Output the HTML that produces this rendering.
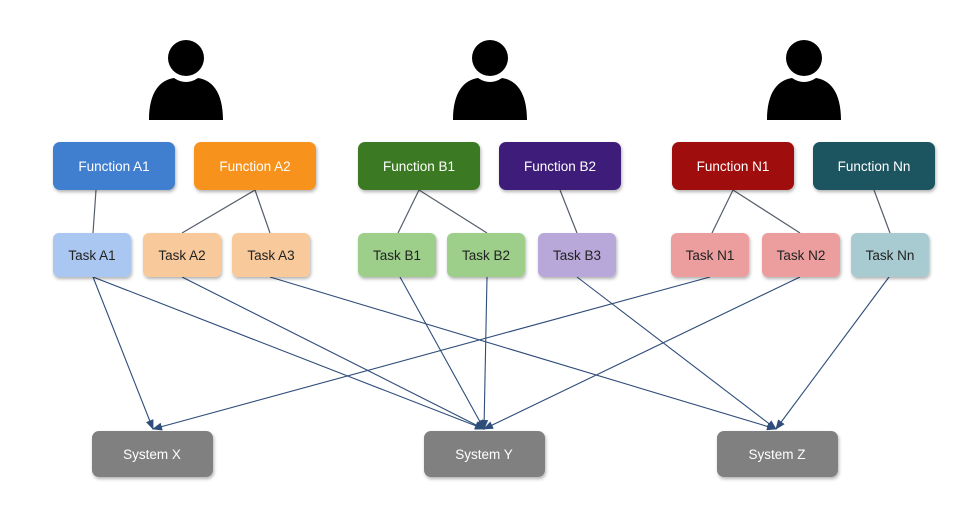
<!DOCTYPE html>
<html><head><meta charset="utf-8"><style>
body{margin:0;background:#fff;}
svg{display:block;font-family:"Liberation Sans",sans-serif;}
</style></head><body>
<svg width="967" height="530" viewBox="0 0 967 530">
<defs>
<marker id="ar" markerWidth="10" markerHeight="8" refX="9" refY="4" orient="auto" markerUnits="userSpaceOnUse">
<path d="M0,0 L10,4 L0,8 Z" fill="#2f4d7a"/></marker>
<filter id="sh" x="-10%" y="-10%" width="130%" height="140%"><feDropShadow dx="1" dy="2" stdDeviation="1.5" flood-opacity="0.3"/></filter>
</defs>
<g fill="#000">
<circle cx="186" cy="58" r="18"/><path d="M149,120 C149,92 160,80 174,78 Q186,86 198,78 C212,80 223,92 223,120 Z"/>
<circle cx="490" cy="58" r="18"/><path d="M453,120 C453,92 464,80 478,78 Q490,86 502,78 C516,80 527,92 527,120 Z"/>
<circle cx="804" cy="58" r="18"/><path d="M767,120 C767,92 778,80 792,78 Q804,86 816,78 C830,80 841,92 841,120 Z"/>
</g>
<g stroke="#555e6a" stroke-width="1.2">
<line x1="96" y1="190" x2="93" y2="233"/>
<line x1="255" y1="190" x2="182" y2="233"/><line x1="255" y1="190" x2="270" y2="233"/>
<line x1="419" y1="190" x2="398" y2="233"/><line x1="419" y1="190" x2="487" y2="233"/>
<line x1="560" y1="190" x2="577" y2="233"/>
<line x1="733" y1="190" x2="712" y2="233"/><line x1="733" y1="190" x2="800" y2="233"/>
<line x1="874" y1="190" x2="890" y2="233"/>
</g>
<g stroke="#2f4d7a" stroke-width="1.1" marker-end="url(#ar)">
<line x1="93" y1="277" x2="153" y2="429"/>
<line x1="93" y1="277" x2="484" y2="429"/>
<line x1="182" y1="277" x2="484" y2="429"/>
<line x1="270" y1="277" x2="776" y2="429"/>
<line x1="400" y1="277" x2="484" y2="429"/>
<line x1="487" y1="277" x2="484" y2="429"/>
<line x1="577" y1="277" x2="776" y2="429"/>
<line x1="710" y1="277" x2="153" y2="429"/>
<line x1="800" y1="277" x2="484" y2="429"/>
<line x1="889" y1="277" x2="776" y2="429"/>
</g>
<g filter="url(#sh)">
<rect x="53" y="142" width="122" height="48" rx="7" fill="#3f7fd0"/>
<rect x="194" y="142" width="122" height="48" rx="7" fill="#f7931e"/>
<rect x="358" y="142" width="122" height="48" rx="7" fill="#3b7a20"/>
<rect x="499" y="142" width="122" height="48" rx="7" fill="#3c1f7a"/>
<rect x="672" y="142" width="122" height="48" rx="7" fill="#a00c0c"/>
<rect x="813" y="142" width="122" height="48" rx="7" fill="#1b5560"/>
<rect x="53" y="233" width="78" height="44" rx="6" fill="#a9c7f0"/>
<rect x="143" y="233" width="78" height="44" rx="6" fill="#f8c99b"/>
<rect x="232" y="233" width="78" height="44" rx="6" fill="#f8c99b"/>
<rect x="358" y="233" width="78" height="44" rx="6" fill="#9dcf8b"/>
<rect x="447" y="233" width="78" height="44" rx="6" fill="#9dcf8b"/>
<rect x="538" y="233" width="78" height="44" rx="6" fill="#b8a7d9"/>
<rect x="671" y="233" width="78" height="44" rx="6" fill="#ec9e9e"/>
<rect x="762" y="233" width="78" height="44" rx="6" fill="#ec9e9e"/>
<rect x="851" y="233" width="78" height="44" rx="6" fill="#a7cbd0"/>
<rect x="92" y="431" width="121" height="46" rx="7" fill="#808080"/>
<rect x="424" y="431" width="121" height="46" rx="7" fill="#808080"/>
<rect x="717" y="431" width="121" height="46" rx="7" fill="#808080"/>
</g>
<g font-size="13.5" fill="#fff" text-anchor="middle">
<text x="114" y="171">Function A1</text><text x="255" y="171">Function A2</text>
<text x="419" y="171">Function B1</text><text x="560" y="171">Function B2</text>
<text x="733" y="171">Function N1</text><text x="874" y="171">Function Nn</text>
<text x="152" y="459">System X</text><text x="484" y="459">System Y</text><text x="777" y="459">System Z</text>
</g>
<g font-size="13.5" fill="#222" text-anchor="middle">
<text x="92" y="260">Task A1</text><text x="182" y="260">Task A2</text><text x="271" y="260">Task A3</text>
<text x="397" y="260">Task B1</text><text x="486" y="260">Task B2</text><text x="577" y="260">Task B3</text>
<text x="710" y="260">Task N1</text><text x="801" y="260">Task N2</text><text x="890" y="260">Task Nn</text>
</g>
</svg>
</body></html>
